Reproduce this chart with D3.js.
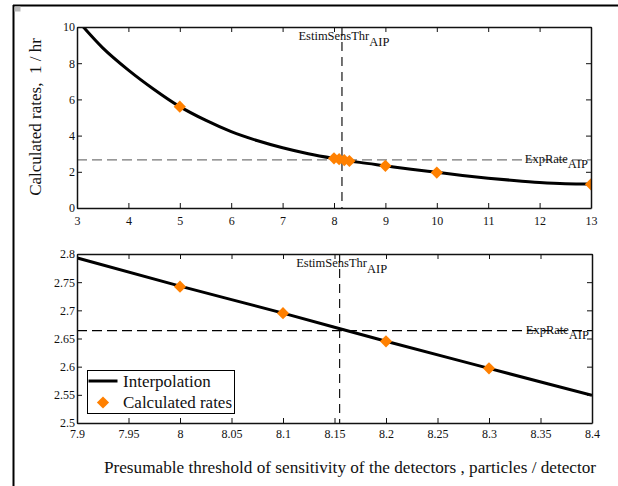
<!DOCTYPE html>
<html>
<head>
<meta charset="utf-8">
<script src="https://cdn.jsdelivr.net/npm/d3@7"></script>
<style>
  body { margin: 0; background: #fff; }
  svg { display: block; }
  svg text { font-family: "Liberation Serif", "Times New Roman", serif; }
</style>
</head>
<body>
<div id="chart"></div>
<script>
// DATA

// interpolation curve, top panel
const curveX = [3, 3.5, 4, 4.5, 5, 5.5, 6, 6.5, 7, 7.5, 8, 8.5, 9, 9.5, 10, 10.5, 11, 11.5, 12, 12.5, 13];
const curveY = [10.4, 8.85, 7.62, 6.55, 5.6, 4.85, 4.22, 3.73, 3.33, 3.0, 2.74, 2.52, 2.33, 2.14, 1.97, 1.8, 1.65, 1.52, 1.41, 1.34, 1.32];

// calculated rates (diamonds)
const rateX = [5, 8, 8.1, 8.2, 8.3, 9, 10, 13];
const rateY = [5.6, 2.742, 2.695, 2.645, 2.597, 2.33, 1.96, 1.31];

// interpolation curve, zoomed bottom panel
const zoomX = [7.9, 8.0, 8.1, 8.2, 8.3, 8.4];
const zoomY = [2.793, 2.743, 2.695, 2.645, 2.597, 2.549];

// reference lines
const estimSensThr = 8.155;
const expRate = 2.664;

// tick values / labels
const topXTicks = [3, 4, 5, 6, 7, 8, 9, 10, 11, 12, 13];
const topYTicks = [0, 2, 4, 6, 8, 10];
const botXTicks = [7.9, 7.95, 8, 8.05, 8.1, 8.15, 8.2, 8.25, 8.3, 8.35, 8.4];
const botXLabels = ["7.9", "7.95", "8", "8.05", "8.1", "8.15", "8.2", "8.25", "8.3", "8.35", "8.4"];
const botYTicks = [2.5, 2.55, 2.6, 2.65, 2.7, 2.75, 2.8];
const botYLabels = ["2.5", "2.55", "2.6", "2.65", "2.7", "2.75", "2.8"];

const legendLabels = ["Interpolation", "Calculated rates"];

// SET DIMENSIONS
const W = 618, H = 486;
const ORANGE = "#ff8000";
const SERIF = "Liberation Serif";

const svg = d3.select("#chart")
    .append("svg")
    .attr("width", W)
    .attr("height", H)
    .attr("font-family", SERIF);

// OUTER FRAME (left + top edge of the figure window)
svg.append("line").attr("x1", 13.5).attr("x2", 13.5).attr("y1", 5).attr("y2", H)
    .attr("stroke", "#000").attr("stroke-width", 2);
svg.append("line").attr("x1", 13).attr("x2", W).attr("y1", 5.5).attr("y2", 5.5)
    .attr("stroke", "#000").attr("stroke-width", 2);
svg.append("rect").attr("x", 14.5).attr("y", 6.5).attr("width", 6).attr("height", 5)
    .attr("fill", "#bbb");

// SET THE SCALES
const xTop = d3.scaleLinear().domain([3, 13]).range([77, 591]);
const yTop = d3.scaleLinear().domain([0, 10]).range([208, 27]);
const xBot = d3.scaleLinear().domain([7.9, 8.4]).range([77, 592]);
const yBot = d3.scaleLinear().domain([2.5, 2.8]).range([423, 254]);

const topPts = curveX.map((d, i) => ({ x: d, y: curveY[i] }));
const botPts = zoomX.map((d, i) => ({ x: d, y: zoomY[i] }));
const ratePts = rateX.map((d, i) => ({ x: d, y: rateY[i] }));

const diamond = d3.symbol().type(d3.symbolDiamond2).size(95);

function styleAxis(sel) {
    sel.attr("font-family", SERIF).attr("font-size", 12);
    sel.selectAll("text").attr("fill", "#111")
        .attr("font-family", SERIF).attr("font-size", 12);
    sel.selectAll("line").attr("stroke", "#111");
    sel.select("path.domain").attr("stroke", "#111").attr("stroke-width", 1.5);
}

function panel(x, y, opt) {
    const [x0, x1] = x.range();
    const [yb, yt] = y.range();
    const g = svg.append("g");

    // CLIP
    g.append("clipPath").attr("id", opt.id)
        .append("rect").attr("x", x0).attr("y", yt)
        .attr("width", x1 - x0).attr("height", yb - yt);

    // REFERENCE LINES
    g.append("line")
        .attr("x1", x(estimSensThr)).attr("x2", x(estimSensThr))
        .attr("y1", yt).attr("y2", yb)
        .attr("stroke", "#000").attr("stroke-width", 1.1)
        .attr("stroke-dasharray", "9,6");
    g.append("line")
        .attr("x1", x0).attr("x2", x1)
        .attr("y1", y(expRate)).attr("y2", y(expRate))
        .attr("stroke", opt.hColor).attr("stroke-width", 1.3)
        .attr("stroke-dasharray", "10,5");

    // ANNOTATIONS
    const t1 = g.append("text")
        .attr("x", x(estimSensThr) - 43.5).attr("y", yt + 13)
        .attr("font-size", 12.5).attr("fill", "#111");
    t1.append("tspan").text("EstimSensThr");
    t1.append("tspan").attr("dy", 5.5).text("AIP");

    const t2 = g.append("text")
        .attr("x", x1 - 3).attr("y", y(expRate) + 3)
        .attr("text-anchor", "end")
        .attr("font-size", 12.5).attr("fill", "#111");
    t2.append("tspan").text("ExpRate");
    t2.append("tspan").attr("dy", 5.5).text("AIP");

    // INTERPOLATION LINE
    const line = d3.line()
        .x(d => x(d.x))
        .y(d => y(d.y))
        .curve(d3.curveMonotoneX);
    g.append("path")
        .datum(opt.curve)
        .attr("clip-path", `url(#${opt.id})`)
        .attr("d", line)
        .style("fill", "none")
        .style("stroke", "#000")
        .style("stroke-width", 3);

    // DIAMONDS
    g.append("g").attr("clip-path", `url(#${opt.id})`)
        .selectAll("path")
        .data(ratePts.filter(d => d.x >= x.domain()[0] && d.x <= x.domain()[1]))
        .join("path")
        .attr("transform", d => `translate(${x(d.x)},${y(d.y)})`)
        .attr("d", diamond)
        .attr("fill", ORANGE);

    // AXES (ticks pointing inward on all four sides)
    g.append("g")
        .attr("transform", `translate(0,${yb})`)
        .call(d3.axisBottom(x).tickValues(opt.xTicks).tickFormat((d, i) => opt.xLabels[i])
            .tickSizeInner(-5).tickSizeOuter(0).tickPadding(opt.xPad))
        .call(styleAxis);
    g.append("g")
        .attr("transform", `translate(0,${yt})`)
        .call(d3.axisTop(x).tickValues(opt.xTicks).tickFormat("")
            .tickSizeInner(-5).tickSizeOuter(0))
        .call(styleAxis);
    g.append("g")
        .attr("transform", `translate(${x0},0)`)
        .call(d3.axisLeft(y).tickValues(opt.yTicks).tickFormat((d, i) => opt.yLabels[i])
            .tickSizeInner(-5).tickSizeOuter(0).tickPadding(2))
        .call(styleAxis);
    g.append("g")
        .attr("transform", `translate(${x1},0)`)
        .call(d3.axisRight(y).tickValues(opt.yTicks).tickFormat("")
            .tickSizeInner(-5).tickSizeOuter(0))
        .call(styleAxis);

    return g;
}

// TOP PANEL
panel(xTop, yTop, {
    id: "clipTop", hColor: "#777", curve: topPts,
    xTicks: topXTicks, xLabels: topXTicks.map(String),
    yTicks: topYTicks, yLabels: topYTicks.map(String), xPad: 8.5
});

// BOTTOM PANEL
const bot = panel(xBot, yBot, {
    id: "clipBot", hColor: "#000", curve: botPts,
    xTicks: botXTicks, xLabels: botXLabels,
    yTicks: botYTicks, yLabels: botYLabels, xPad: 6.5
});

// LEGEND
const lg = bot.append("g").attr("transform", "translate(87.5,370.5)");
lg.append("rect").attr("width", 147).attr("height", 43)
    .attr("fill", "#fff").attr("stroke", "#000").attr("stroke-width", 1);
lg.append("line").attr("x1", 1).attr("x2", 30).attr("y1", 10.5).attr("y2", 10.5)
    .attr("stroke", "#000").attr("stroke-width", 3);
lg.append("path").attr("transform", "translate(15.5,32)")
    .attr("d", diamond).attr("fill", ORANGE);
lg.selectAll("text.lab")
    .data(legendLabels)
    .join("text")
    .attr("class", "lab")
    .attr("x", 35.5)
    .attr("y", (d, i) => 16 + i * 21.5)
    .attr("font-size", 17)
    .attr("fill", "#111")
    .text(d => d);

// AXIS TITLES
svg.append("text")
    .attr("transform", "translate(41,117) rotate(-90)")
    .attr("text-anchor", "middle")
    .attr("font-size", 17)
    .attr("fill", "#111")
    .attr("xml:space", "preserve")
    .text("Calculated rates,  1 / hr");

svg.append("text")
    .attr("x", 350).attr("y", 473)
    .attr("text-anchor", "middle")
    .attr("font-size", 17.2)
    .attr("fill", "#111")
    .text("Presumable threshold of sensitivity of the detectors , particles / detector");
</script>
</body>
</html>
